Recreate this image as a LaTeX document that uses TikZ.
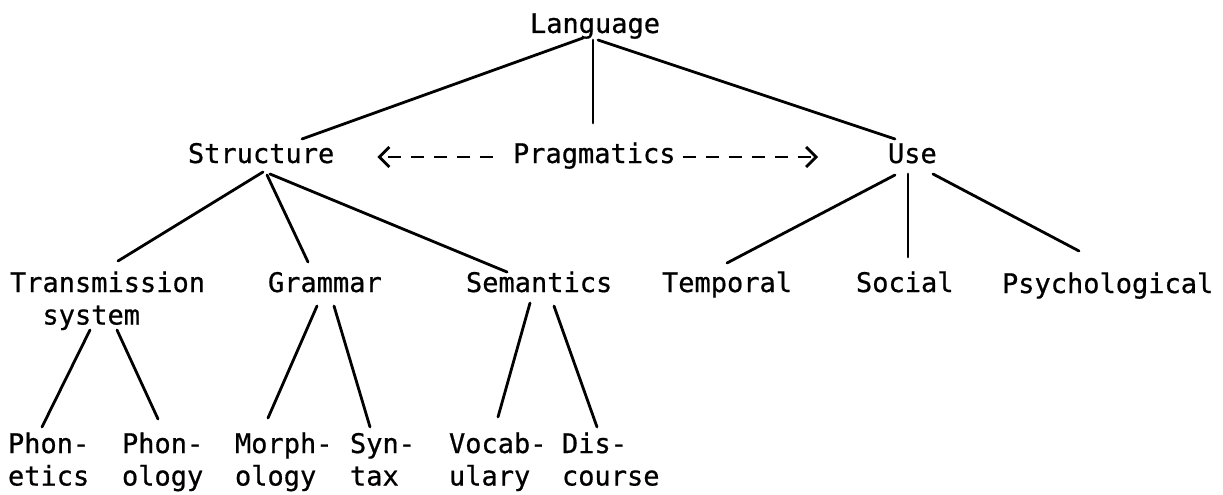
\documentclass[tikz,border=0pt]{standalone}
\usepackage{fontspec}
\newfontfamily\twfont[FakeBold=0.7]{DejaVu Sans Mono}
\usetikzlibrary{arrows.meta,calc}
\begin{document}
\begin{tikzpicture}[x=1pt,y=-1pt,
  lbl/.style={anchor=base west, inner sep=0pt, outer sep=0pt, align=left,
    font={\twfont\fontsize{27}{32.5}\selectfont}},
  branch/.style={line width=2.8pt, line cap=round},
  pragarrow/.style={line width=2.8pt, dash pattern=on 13pt off 10pt,
    -{Straight Barb[length=10pt,width=20pt]}}]
\useasboundingbox (0,0) rectangle (1223,495);

% top level (single lines: base = baseline)
\node[lbl] (lang)   at (530,33)  {Language};
\node[lbl] (struct) at (188,163) {Structure};
\node[lbl] (prag)   at (513,163) {Pragmatics};
\node[lbl] (use)    at (888,163) {Use};

% second level (two-line labels sit on their last baseline)
\node[lbl] (trans) at (10,324.5) {Transmission\\\hspace*{32.5pt}system};
\node[lbl] (gram)  at (268,292)  {Grammar};
\node[lbl] (sem)   at (466,292)  {Semantics};
\node[lbl] (temp)  at (662,292)  {Temporal};
\node[lbl] (soc)   at (856,292)  {Social};
\node[lbl] (psy)   at (1002,293) {Psychological};

% third level
\node[lbl] (phonet) at (8,485.5)   {Phon-\\etics};
\node[lbl] (phonol) at (122,485.5) {Phon-\\ology};
\node[lbl] (morph)  at (235,485.5) {Morph-\\ology};
\node[lbl] (syn)    at (350,485.5) {Syn-\\tax};
\node[lbl] (vocab)  at (449,485.5) {Vocab-\\ulary};
\node[lbl] (dis)    at (562,485.5) {Dis-\\course};

% Language branches
\draw[branch] ($(lang.base west)+(53,5)$) -- ($(struct.base west)+(114,-24)$);
\draw[branch] ($(lang.base west)+(63,7)$) -- ($(prag.base west)+(80,-40)$);
\draw[branch] ($(lang.base west)+(68,7)$) -- ($(use.base west)+(7,-24)$);

% Pragmatics points both ways
\draw[pragarrow] ($(prag.base west)+(-20,-6)$) -- ($(struct.base east)+(43,-6)$);
\draw[pragarrow] ($(prag.base east)+(7,-6)$) -- ($(use.base west)+(-70,-6)$);

% Structure branches
\draw[branch] ($(struct.base west)+(75,9)$)  -- ($(trans.base west)+(108,-63.5)$);
\draw[branch] ($(struct.base west)+(79,12)$) -- ($(gram.base west)+(40,-30)$);
\draw[branch] ($(struct.base west)+(82,11)$) -- ($(sem.base west)+(41,-20)$);

% Use branches
\draw[branch] ($(use.base west)+(7,12)$)  -- ($(temp.base west)+(65,-29)$);
\draw[branch] ($(use.base west)+(20,11)$) -- ($(soc.base west)+(52,-35)$);
\draw[branch] ($(use.base west)+(45,11)$) -- ($(psy.base west)+(77,-42)$);

% lowest level
\draw[branch] ($(trans.base west)+(80,5.5)$)  -- ($(phonet.base west)+(34,-58.5)$);
\draw[branch] ($(trans.base west)+(107,5.5)$) -- ($(phonol.base west)+(36,-66.5)$);
\draw[branch] ($(gram.base west)+(49,14)$)    -- ($(morph.base west)+(33,-67.5)$);
\draw[branch] ($(gram.base west)+(66,14)$)    -- ($(syn.base west)+(20,-58.5)$);
\draw[branch] ($(sem.base west)+(64,11)$)     -- ($(vocab.base west)+(49,-68.5)$);
\draw[branch] ($(sem.base west)+(88,14)$)     -- ($(dis.base west)+(35,-58.5)$);
\end{tikzpicture}
\end{document}
